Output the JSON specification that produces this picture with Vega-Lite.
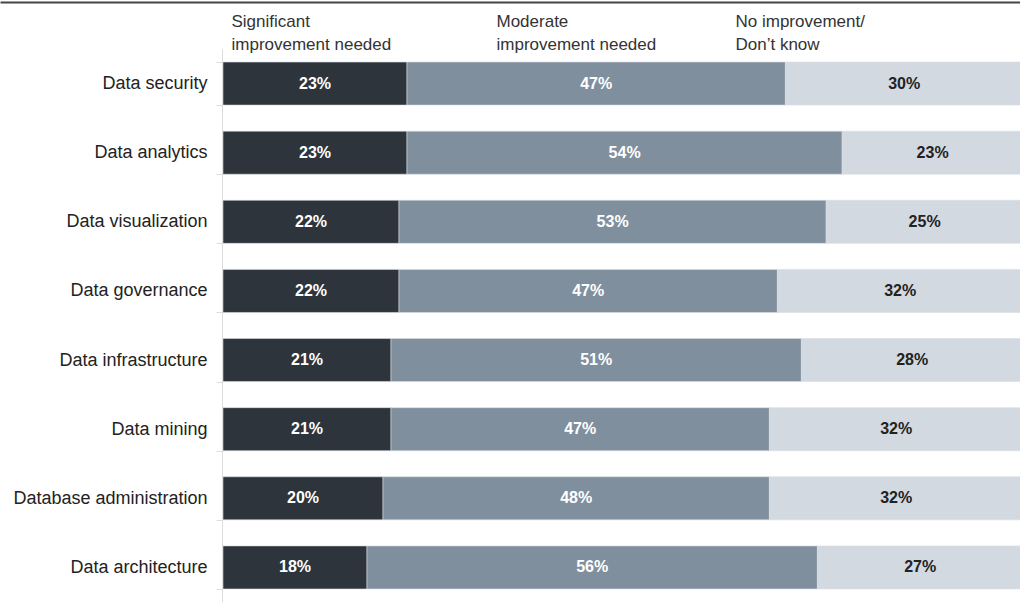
{
  "$schema": "https://vega.github.io/schema/vega-lite/v6.json",
  "autosize": "none",
  "width": 1020,
  "height": 553,
  "padding": {"left": 0, "top": 49, "right": 0, "bottom": 0},
  "background": "white",
  "config": {
    "view": {"stroke": null},
    "font": "Liberation Sans"
  },
  "data": {
    "values": [
      {"category": "Data security", "group": "Significant improvement needed", "idx": 1, "value": 23, "label": "23%"},
      {"category": "Data security", "group": "Moderate improvement needed", "idx": 2, "value": 47.3, "label": "47%"},
      {"category": "Data security", "group": "No improvement/Don\u2019t know", "idx": 3, "value": 29.7, "label": "30%"},
      {"category": "Data analytics", "group": "Significant improvement needed", "idx": 1, "value": 23, "label": "23%"},
      {"category": "Data analytics", "group": "Moderate improvement needed", "idx": 2, "value": 54.4, "label": "54%"},
      {"category": "Data analytics", "group": "No improvement/Don\u2019t know", "idx": 3, "value": 22.6, "label": "23%"},
      {"category": "Data visualization", "group": "Significant improvement needed", "idx": 1, "value": 22, "label": "22%"},
      {"category": "Data visualization", "group": "Moderate improvement needed", "idx": 2, "value": 53.4, "label": "53%"},
      {"category": "Data visualization", "group": "No improvement/Don\u2019t know", "idx": 3, "value": 24.6, "label": "25%"},
      {"category": "Data governance", "group": "Significant improvement needed", "idx": 1, "value": 22, "label": "22%"},
      {"category": "Data governance", "group": "Moderate improvement needed", "idx": 2, "value": 47.3, "label": "47%"},
      {"category": "Data governance", "group": "No improvement/Don\u2019t know", "idx": 3, "value": 30.7, "label": "32%"},
      {"category": "Data infrastructure", "group": "Significant improvement needed", "idx": 1, "value": 21, "label": "21%"},
      {"category": "Data infrastructure", "group": "Moderate improvement needed", "idx": 2, "value": 51.3, "label": "51%"},
      {"category": "Data infrastructure", "group": "No improvement/Don\u2019t know", "idx": 3, "value": 27.7, "label": "28%"},
      {"category": "Data mining", "group": "Significant improvement needed", "idx": 1, "value": 21, "label": "21%"},
      {"category": "Data mining", "group": "Moderate improvement needed", "idx": 2, "value": 47.3, "label": "47%"},
      {"category": "Data mining", "group": "No improvement/Don\u2019t know", "idx": 3, "value": 31.7, "label": "32%"},
      {"category": "Database administration", "group": "Significant improvement needed", "idx": 1, "value": 20, "label": "20%"},
      {"category": "Database administration", "group": "Moderate improvement needed", "idx": 2, "value": 48.3, "label": "48%"},
      {"category": "Database administration", "group": "No improvement/Don\u2019t know", "idx": 3, "value": 31.7, "label": "32%"},
      {"category": "Data architecture", "group": "Significant improvement needed", "idx": 1, "value": 18, "label": "18%"},
      {"category": "Data architecture", "group": "Moderate improvement needed", "idx": 2, "value": 56.3, "label": "56%"},
      {"category": "Data architecture", "group": "No improvement/Don\u2019t know", "idx": 3, "value": 25.7, "label": "27%"}
    ]
  },
  "encoding": {
    "y": {
      "field": "category",
      "type": "nominal",
      "sort": null,
      "scale": {"paddingInner": 0.377, "paddingOuter": 0.1885},
      "axis": {
        "title": null,
        "orient": "left",
        "offset": -222,
        "domainColor": "#dddddd",
        "tickColor": "#dddddd",
        "tickSize": 6,
        "tickBand": "extent",
        "labelPadding": 9,
        "labelFontSize": 18,
        "labelColor": "#222222",
        "labelLimit": 400
      }
    },
    "x": {
      "field": "value",
      "type": "quantitative",
      "stack": "zero",
      "scale": {"domain": [-27.875, 99.625], "nice": false, "zero": false},
      "axis": {
        "title": null,
        "orient": "top",
        "offset": 47,
        "domain": true,
        "domainColor": "#444444",
        "domainWidth": 2,
        "ticks": false,
        "grid": false,
        "values": [1, 34.125, 64],
        "labelExpr": "datum.value < 10 ? ['Significant', 'improvement needed'] : datum.value < 50 ? ['Moderate', 'improvement needed'] : ['No improvement/', 'Don\u2019t know']",
        "labelAlign": "left",
        "labelBaseline": "top",
        "labelPadding": -11,
        "labelLineHeight": 23,
        "labelFontSize": 17,
        "labelColor": "#333333",
        "labelOverlap": false,
        "labelFlush": false,
        "labelBound": false
      }
    },
    "order": {"field": "idx", "type": "quantitative"}
  },
  "layer": [
    {
      "mark": {"type": "bar", "stroke": "#d9dde2", "strokeWidth": 0.6},
      "encoding": {
        "color": {
          "field": "group",
          "type": "nominal",
          "scale": {
            "domain": ["Significant improvement needed", "Moderate improvement needed", "No improvement/Don\u2019t know"],
            "range": ["#2e343b", "#7f8f9e", "#d3d9e0"]
          },
          "legend": null
        }
      }
    },
    {
      "mark": {"type": "text", "fontWeight": "bold", "fontSize": 16, "align": "center", "baseline": "middle"},
      "encoding": {
        "x": {"field": "value", "type": "quantitative", "stack": "zero", "bandPosition": 0.5},
        "text": {"field": "label"},
        "color": {
          "condition": {"test": "datum.idx === 3", "value": "#222222"},
          "value": "#ffffff"
        }
      }
    }
  ]
}
